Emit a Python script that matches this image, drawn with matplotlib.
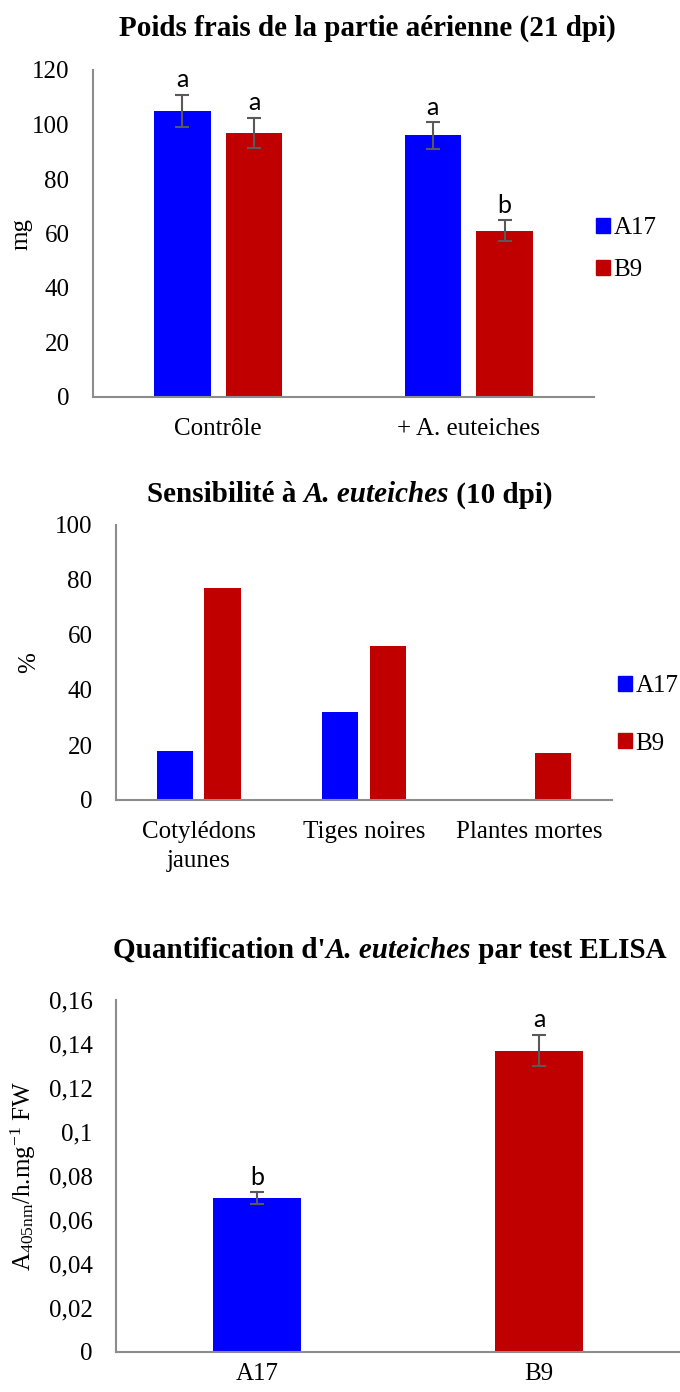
import numpy as np
import matplotlib.pyplot as plt
from matplotlib.patches import Patch
from matplotlib.offsetbox import TextArea, HPacker, AnchoredOffsetbox

plt.rcParams['font.family'] = ['Liberation Serif', 'DejaVu Serif']
plt.rcParams['mathtext.fontset'] = 'custom'
plt.rcParams['mathtext.rm'] = 'Liberation Serif'
plt.rcParams['mathtext.it'] = 'Liberation Serif:italic'
plt.rcParams['mathtext.bf'] = 'Liberation Serif:bold'

# --- data ---
lignees = ['A17', 'B9']
couleurs = ['#0000ff', '#c00000']

poids_cat = ['Contrôle', '+ A. euteiches']
poids_a17 = [105, 96]
poids_b9 = [97, 61]
poids_err_a17 = [6, 5]
poids_err_b9 = [5.5, 3.8]
poids_lettres_a17 = ['a', 'a']
poids_lettres_b9 = ['a', 'b']

sens_cat = ['Cotylédons\njaunes', 'Tiges noires', 'Plantes mortes']
sens_a17 = [18, 32, 0]
sens_b9 = [77, 56, 17]

elisa_val = [0.070, 0.137]
elisa_err = [0.0028, 0.0072]
elisa_lettres = ['b', 'a']

W, H = 680, 1392
fig = plt.figure(figsize=(W / 100, H / 100), dpi=100)

spine_col = '#8c8c8c'
err_col = '#595959'
fs = 18      # ticks, labels, legend
fs_t = 21    # titles
fs_l = 18    # significance letters
err_kw = dict(ecolor=err_col, capsize=4.7, elinewidth=1.5, capthick=1.5)


def style(ax, xpad=15):
    for s in ['top', 'right']:
        ax.spines[s].set_visible(False)
    for s in ['left', 'bottom']:
        ax.spines[s].set_color(spine_col)
        ax.spines[s].set_linewidth(1.5)
    ax.tick_params(length=0, labelsize=fs)
    ax.tick_params(axis='y', pad=17)
    ax.tick_params(axis='x', pad=xpad)


def axes_px(x0, x1, ytop, ybot):
    return fig.add_axes([x0 / W, 1 - ybot / H, (x1 - x0) / W, (ybot - ytop) / H])


def legende(ax, xpx, ypx, spacing):
    ax.legend([Patch(color=c) for c in couleurs], lignees, loc='center left',
              bbox_to_anchor=(xpx / W, 1 - ypx / H), bbox_transform=fig.transFigure,
              frameon=False, fontsize=fs, borderpad=0, borderaxespad=0,
              handlelength=0.55, handleheight=0.55, handletextpad=0.15,
              labelspacing=spacing)


def titre(parts, xpx, ypx):
    # parts: list of (text, italic)
    boxes = [TextArea(t, textprops=dict(fontsize=fs_t, fontweight='bold',
                                        fontstyle='italic' if it else 'normal'))
             for t, it in parts]
    pack = HPacker(children=boxes, align='baseline', pad=0, sep=0)
    ab = AnchoredOffsetbox(loc='center', child=pack, pad=0, borderpad=0, frameon=False,
                           bbox_to_anchor=(xpx / W, 1 - ypx / H),
                           bbox_transform=fig.transFigure)
    fig.add_artist(ab)


# --- panel 1 ---
ax1 = axes_px(93, 594, 70, 397)
x = np.arange(len(poids_cat))
w, off = 0.225, 0.143
ax1.bar(x - off, poids_a17, w, color=couleurs[0], yerr=poids_err_a17, error_kw=err_kw)
ax1.bar(x + off, poids_b9, w, color=couleurs[1], yerr=poids_err_b9, error_kw=err_kw)
for xi, v, e, l in zip(x - off, poids_a17, poids_err_a17, poids_lettres_a17):
    ax1.text(xi, v + e + 1.2, l, ha='center', va='bottom', fontsize=fs_l, family='Lato')
for xi, v, e, l in zip(x + off, poids_b9, poids_err_b9, poids_lettres_b9):
    ax1.text(xi, v + e + 1.2, l, ha='center', va='bottom', fontsize=fs_l, family='Lato')
ax1.set_xlim(-0.5, 1.5)
ax1.set_ylim(0, 120)
ax1.set_yticks(range(0, 121, 20))
ax1.set_xticks(x)
ax1.set_xticklabels(poids_cat)
style(ax1)
ax1.set_ylabel('mg', fontsize=fs)
ax1.yaxis.set_label_coords(-0.12, 0.5)
legende(ax1, 596, 249, 0.8)
titre([('Poids frais de la partie aérienne (21 dpi)', False)], 367, 28)

# --- panel 2 ---
ax2 = axes_px(116, 612, 525, 800)
x = np.arange(len(sens_cat))
w, off = 0.22, 0.145
ax2.bar(x - off, sens_a17, w, color=couleurs[0])
ax2.bar(x + off, sens_b9, w, color=couleurs[1])
ax2.set_xlim(-0.5, 2.5)
ax2.set_ylim(0, 100)
ax2.set_yticks(range(0, 101, 20))
ax2.set_xticks(x)
ax2.set_xticklabels(sens_cat, linespacing=1.4)
style(ax2)
ax2.set_ylabel('%', fontsize=fs)
ax2.yaxis.set_label_coords(-0.153, 0.5)
legende(ax2, 618, 715, 1.4)
titre([('Sensibilité à ', False), ('A. euteiches', True), (' (10 dpi)', False)], 350, 495)

# --- panel 3 ---
ax3 = axes_px(116, 680, 1000, 1352)
x = np.arange(len(lignees))
ax3.bar(x, elisa_val, 0.315, color=couleurs, yerr=elisa_err, error_kw=err_kw)
for xi, v, e, l in zip(x, elisa_val, elisa_err, elisa_lettres):
    ax3.text(xi, v + e + 0.0015, l, ha='center', va='bottom', fontsize=fs_l, family='Lato')
ax3.set_xlim(-0.5, 1.5)
ax3.set_ylim(0, 0.16)
ax3.set_yticks(np.arange(0, 0.161, 0.02))
ax3.set_yticklabels(['0', '0,02', '0,04', '0,06', '0,08', '0,1', '0,12', '0,14', '0,16'])
ax3.set_xticks(x)
ax3.set_xticklabels(lignees)
style(ax3, xpad=8)
ax3.set_ylabel(r'A$_{\mathrm{405nm}}$/h.mg$^{\mathrm{-1}}$ FW', fontsize=fs)
ax3.yaxis.set_label_coords(-0.138, 0.5)
titre([("Quantification d'", False), ('A. euteiches', True), (' par test ELISA', False)], 390, 950)

fig.savefig('out.png', dpi=100)
